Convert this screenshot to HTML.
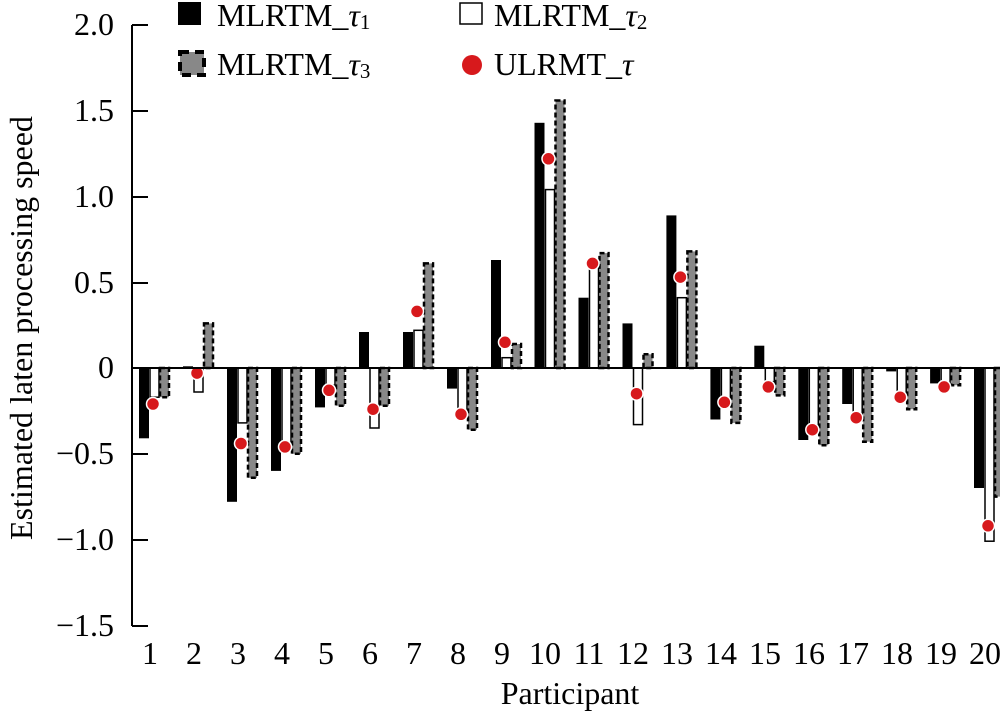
<!DOCTYPE html>
<html><head><meta charset="utf-8"><style>
html,body{margin:0;padding:0;background:#fff}
svg{display:block;font-family:"Liberation Serif",serif}
.k{fill:#000}
.w{fill:#fff;stroke:#000;stroke-width:1.5}
.g{fill:#888;stroke:#000;stroke-width:2.5;stroke-dasharray:5,3}
.r{fill:#d7191c;stroke:#fff;stroke-width:1.5}
</style></head><body>
<svg width="1000" height="716" viewBox="0 0 1000 716" xmlns="http://www.w3.org/2000/svg">
<g transform="translate(150,0)"><rect class="k" x="-11" y="368" width="10" height="70.3"/><rect class="w" x="0" y="368" width="9" height="29.2"/><rect class="g" x="10" y="368" width="9" height="29.2"/><circle class="r" cx="3" cy="404" r="6.5"/></g>
<g transform="translate(194,0)"><rect class="k" x="-11" y="366.3" width="10" height="1.7"/><rect class="w" x="0" y="368" width="9" height="24"/><rect class="g" x="10" y="323.4" width="9" height="44.6"/><circle class="r" cx="3" cy="373.1" r="6.5"/></g>
<g transform="translate(238,0)"><rect class="k" x="-11" y="368" width="10" height="133.8"/><rect class="w" x="0" y="368" width="9" height="54.9"/><rect class="g" x="10" y="368" width="9" height="109.8"/><circle class="r" cx="3" cy="443.5" r="6.5"/></g>
<g transform="translate(282,0)"><rect class="k" x="-11" y="368" width="10" height="102.9"/><rect class="w" x="0" y="368" width="9" height="80.6"/><rect class="g" x="10" y="368" width="9" height="85.8"/><circle class="r" cx="3" cy="446.9" r="6.5"/></g>
<g transform="translate(326,0)"><rect class="k" x="-11" y="368" width="10" height="39.4"/><rect class="w" x="0" y="368" width="9" height="17.2"/><rect class="g" x="10" y="368" width="9" height="37.7"/><circle class="r" cx="3" cy="390.3" r="6.5"/></g>
<g transform="translate(370,0)"><rect class="k" x="-11" y="332" width="10" height="36"/><rect class="w" x="0" y="368" width="9" height="60"/><rect class="g" x="10" y="368" width="9" height="37.7"/><circle class="r" cx="3" cy="409.2" r="6.5"/></g>
<g transform="translate(414,0)"><rect class="k" x="-11" y="332" width="10" height="36"/><rect class="w" x="0" y="330.3" width="9" height="37.7"/><rect class="g" x="10" y="263.4" width="9" height="104.6"/><circle class="r" cx="3" cy="311.4" r="6.5"/></g>
<g transform="translate(458,0)"><rect class="k" x="-11" y="368" width="10" height="20.6"/><rect class="w" x="0" y="368" width="9" height="42.9"/><rect class="g" x="10" y="368" width="9" height="61.7"/><circle class="r" cx="3" cy="414.3" r="6.5"/></g>
<g transform="translate(502,0)"><rect class="k" x="-11" y="260" width="10" height="108"/><rect class="w" x="0" y="357.7" width="9" height="10.3"/><rect class="g" x="10" y="344" width="9" height="24"/><circle class="r" cx="3" cy="342.3" r="6.5"/></g>
<g transform="translate(545.5,0)"><rect class="k" x="-11" y="122.8" width="10" height="245.2"/><rect class="w" x="0" y="189.6" width="9" height="178.4"/><rect class="g" x="10" y="100.5" width="9" height="267.5"/><circle class="r" cx="3" cy="158.8" r="6.5"/></g>
<g transform="translate(589.5,0)"><rect class="k" x="-11" y="297.7" width="10" height="70.3"/><rect class="w" x="0" y="265.1" width="9" height="102.9"/><rect class="g" x="10" y="253.1" width="9" height="114.9"/><circle class="r" cx="3" cy="263.4" r="6.5"/></g>
<g transform="translate(633.5,0)"><rect class="k" x="-11" y="323.4" width="10" height="44.6"/><rect class="w" x="0" y="368" width="9" height="56.6"/><rect class="g" x="10" y="354.3" width="9" height="13.7"/><circle class="r" cx="3" cy="393.7" r="6.5"/></g>
<g transform="translate(677.4,0)"><rect class="k" x="-11" y="215.4" width="10" height="152.6"/><rect class="w" x="0" y="297.7" width="9" height="70.3"/><rect class="g" x="10" y="251.4" width="9" height="116.6"/><circle class="r" cx="3" cy="277.1" r="6.5"/></g>
<g transform="translate(721.4,0)"><rect class="k" x="-11" y="368" width="10" height="51.5"/><rect class="w" x="0" y="368" width="9" height="34.3"/><rect class="g" x="10" y="368" width="9" height="54.9"/><circle class="r" cx="3" cy="402.3" r="6.5"/></g>
<g transform="translate(765.3,0)"><rect class="k" x="-11" y="345.7" width="10" height="22.3"/><rect class="w" x="0" y="368" width="9" height="13.7"/><rect class="g" x="10" y="368" width="9" height="27.4"/><circle class="r" cx="3" cy="386.9" r="6.5"/></g>
<g transform="translate(809.3,0)"><rect class="k" x="-11" y="368" width="10" height="72"/><rect class="w" x="0" y="368" width="9" height="65.2"/><rect class="g" x="10" y="368" width="9" height="77.2"/><circle class="r" cx="3" cy="429.7" r="6.5"/></g>
<g transform="translate(853.2,0)"><rect class="k" x="-11" y="368" width="10" height="36"/><rect class="w" x="0" y="368" width="9" height="51.5"/><rect class="g" x="10" y="368" width="9" height="73.7"/><circle class="r" cx="3" cy="417.7" r="6.5"/></g>
<g transform="translate(897.2,0)"><rect class="k" x="-11" y="368" width="10" height="3.4"/><rect class="w" x="0" y="368" width="9" height="29.2"/><rect class="g" x="10" y="368" width="9" height="41.2"/><circle class="r" cx="3" cy="397.2" r="6.5"/></g>
<g transform="translate(941.1,0)"><rect class="k" x="-11" y="368" width="10" height="15.4"/><rect class="w" x="0" y="368" width="9" height="17.2"/><rect class="g" x="10" y="368" width="9" height="17.2"/><circle class="r" cx="3" cy="386.9" r="6.5"/></g>
<g transform="translate(985,0)"><rect class="k" x="-11" y="368" width="10" height="120"/><rect class="w" x="0" y="368" width="9" height="173.2"/><rect class="g" x="10" y="368" width="9" height="128.6"/><circle class="r" cx="3" cy="525.8" r="6.5"/></g>

<line x1="132" y1="25" x2="132" y2="626" stroke="#000" stroke-width="2"/>
<line x1="132" y1="368" x2="1000" y2="368" stroke="#000" stroke-width="2"/>
<g stroke="#000" stroke-width="2">
<line x1="132" y1="25" x2="148" y2="25"/><line x1="132" y1="111" x2="148" y2="111"/>
<line x1="132" y1="197" x2="148" y2="197"/><line x1="132" y1="283" x2="148" y2="283"/>
<line x1="132" y1="454" x2="148" y2="454"/><line x1="132" y1="540" x2="148" y2="540"/>
<line x1="132" y1="626" x2="148" y2="626"/>
</g>
<g font-size="32" text-anchor="end">
<text x="114" y="35">2.0</text><text x="114" y="121">1.5</text><text x="114" y="207">1.0</text>
<text x="114" y="293">0.5</text><text x="114" y="378">0</text><text x="114" y="464">−0.5</text>
<text x="114" y="550">−1.0</text><text x="114" y="636">−1.5</text>
</g>
<g font-size="32" text-anchor="middle">
<text x="150" y="664">1</text><text x="194" y="664">2</text><text x="238" y="664">3</text><text x="282" y="664">4</text>
<text x="326" y="664">5</text><text x="370" y="664">6</text><text x="414" y="664">7</text><text x="458" y="664">8</text>
<text x="502" y="664">9</text><text x="545" y="664">10</text><text x="589" y="664">11</text><text x="633" y="664">12</text>
<text x="677" y="664">13</text><text x="721" y="664">14</text><text x="765" y="664">15</text><text x="809" y="664">16</text>
<text x="853" y="664">17</text><text x="897" y="664">18</text><text x="941" y="664">19</text><text x="985" y="664">20</text>
</g>
<text x="570" y="704" font-size="32" text-anchor="middle">Participant</text>
<text transform="translate(32,328) rotate(-90)" font-size="32" text-anchor="middle">Estimated laten processing speed</text>
<rect x="178" y="2" width="23" height="23" fill="#000"/>
<text x="217" y="26" font-size="32">MLRTM_<tspan font-style="italic">τ</tspan><tspan font-size="21" dy="3">1</tspan></text>
<rect x="460" y="3" width="22" height="21" fill="#fff" stroke="#000" stroke-width="1.5"/>
<text x="494" y="26" font-size="32">MLRTM_<tspan font-style="italic">τ</tspan><tspan font-size="21" dy="3">2</tspan></text>
<rect x="180" y="52" width="24" height="23" fill="#888" stroke="#000" stroke-width="4" stroke-dasharray="9,6"/>
<text x="217" y="75" font-size="32">MLRTM_<tspan font-style="italic">τ</tspan><tspan font-size="21" dy="3">3</tspan></text>
<circle cx="472" cy="65" r="10" fill="#d7191c"/>
<text x="494" y="75" font-size="32">ULRMT_<tspan font-style="italic">τ</tspan></text>
</svg>
</body></html>
